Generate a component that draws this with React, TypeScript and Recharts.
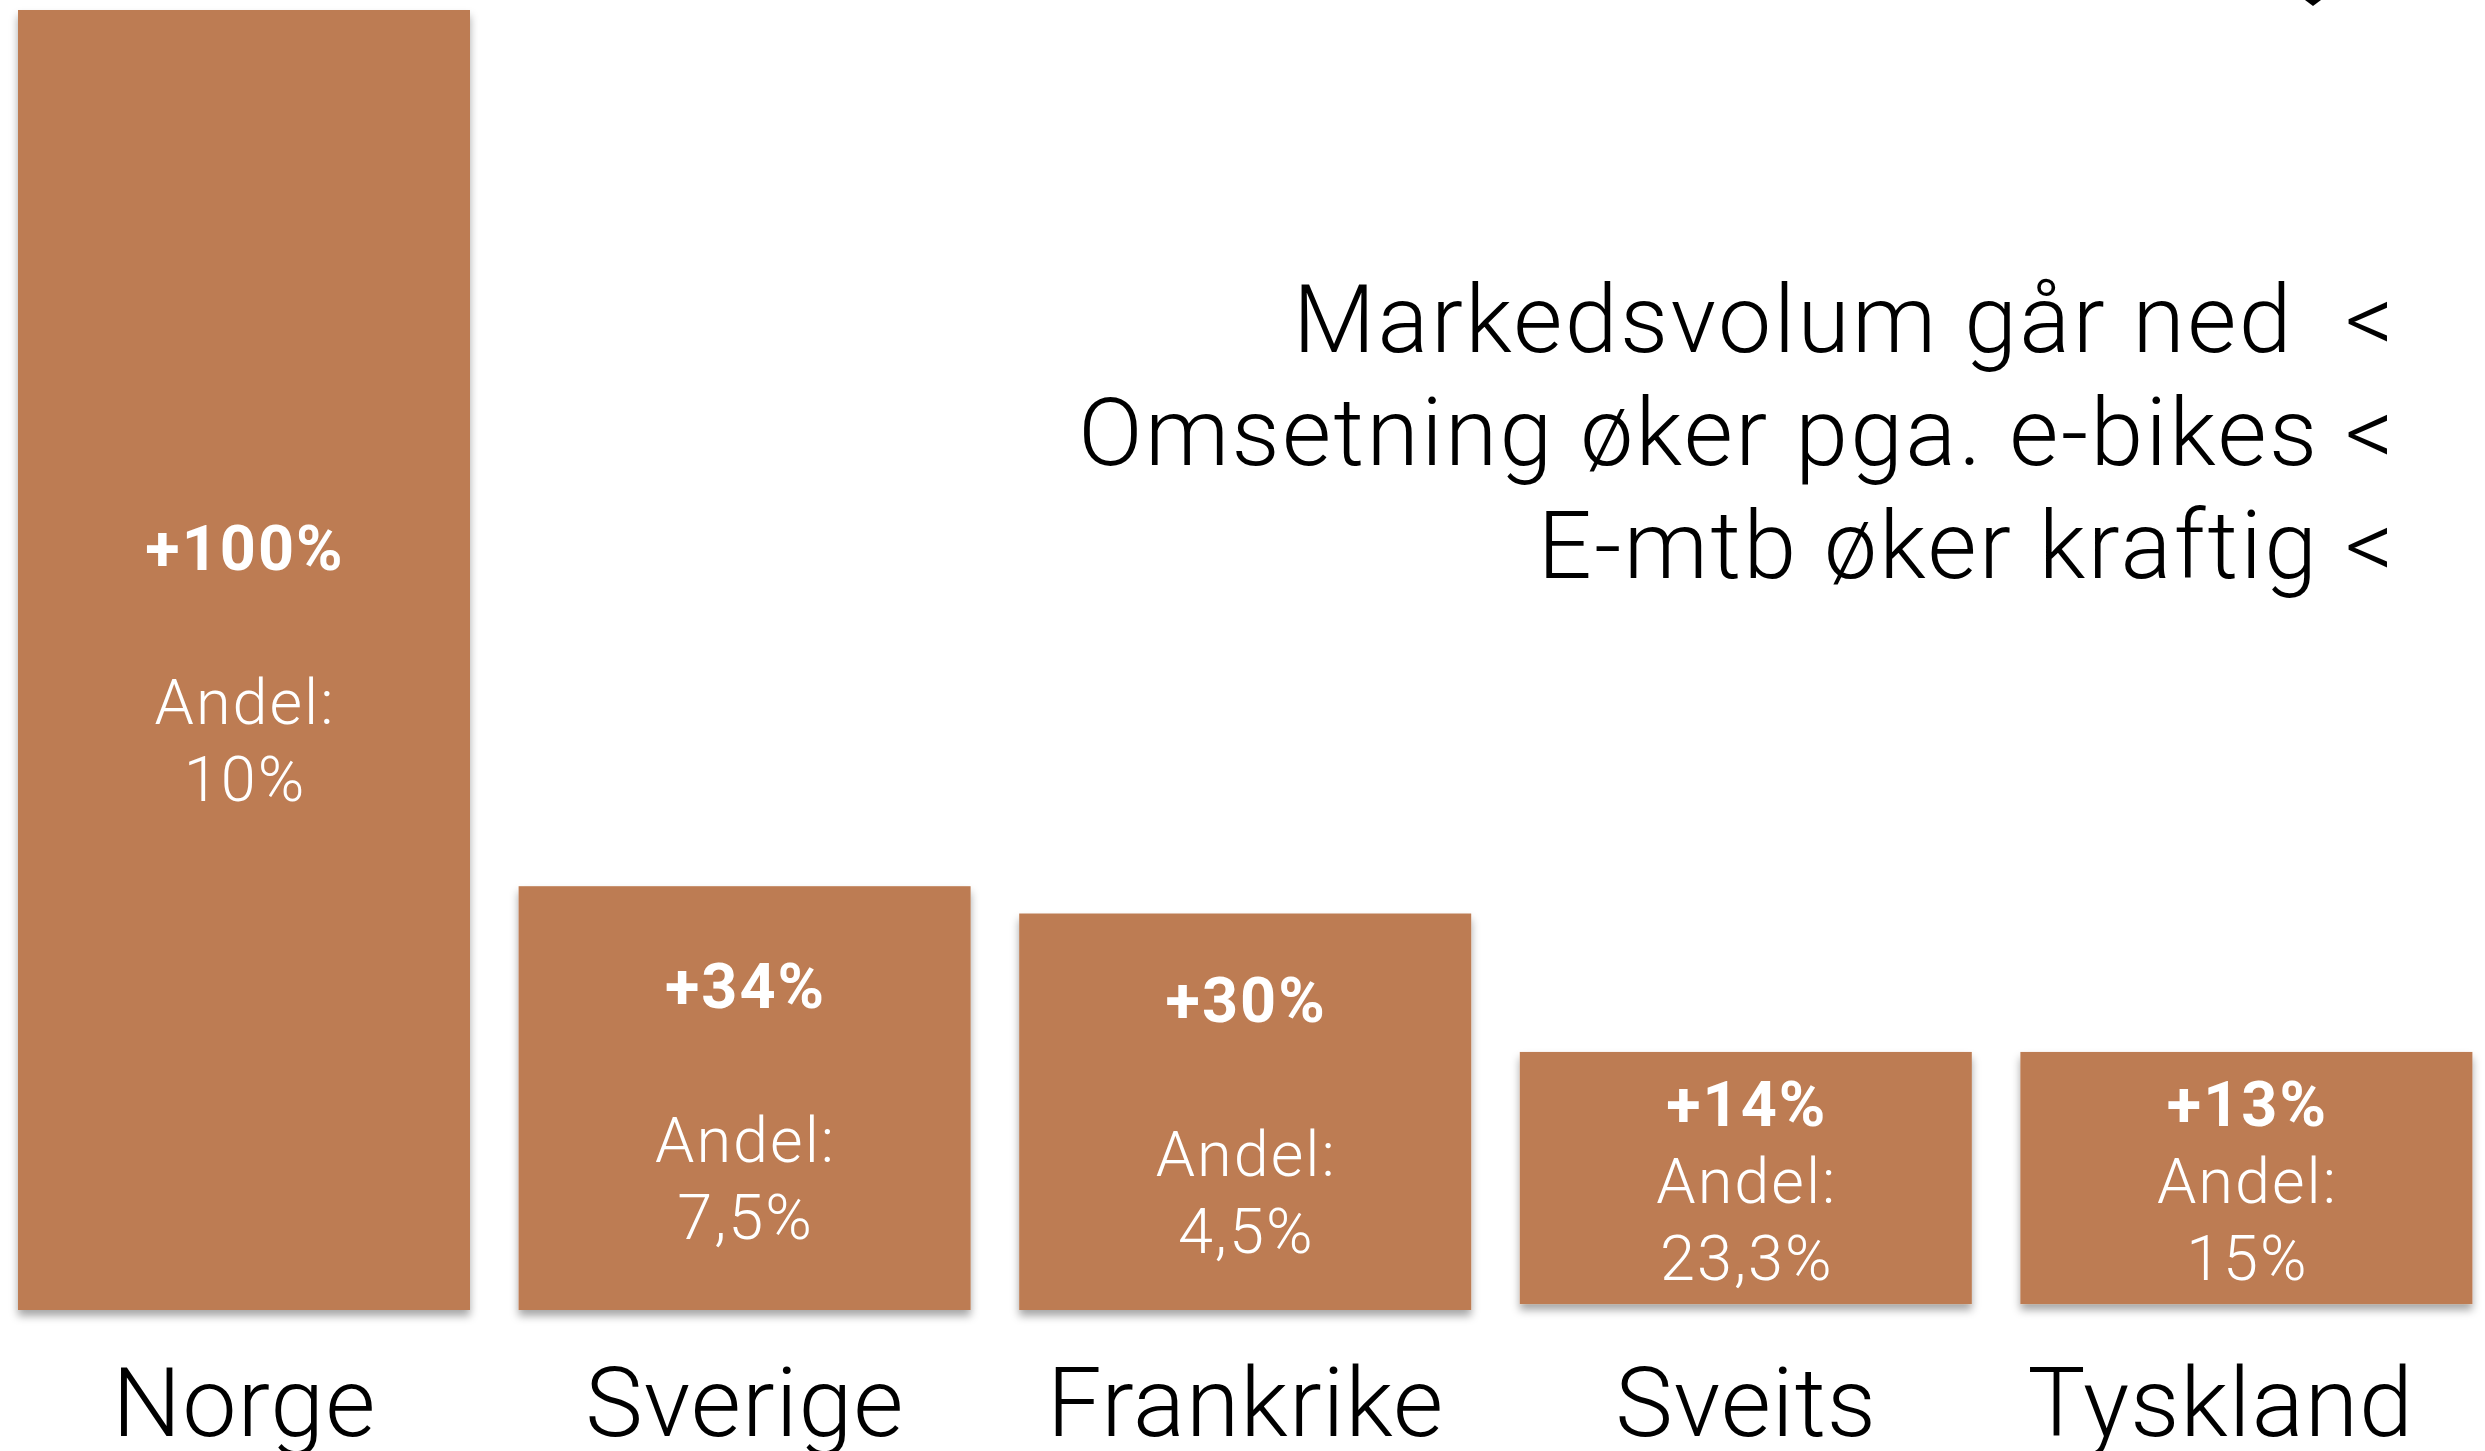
import { BarChart, Bar, XAxis, YAxis, Customized } from 'recharts';

const countries = ['Norge', 'Sverige', 'Frankrike', 'Sveits', 'Tyskland'];
const barBase = [0, 0, 0, 0.46, 0.46];
const barTop = [100, 32.6, 30.5, 19.85, 19.85];
const growth = ['+100%', '+34%', '+30%', '+14%', '+13%'];
const share = ['10%', '7,5%', '4,5%', '23,3%', '15%'];
const notes = ['Markedsvolum går ned  <', 'Omsetning øker pga. e-bikes <', 'E-mtb øker kraftig <'];

const data = countries.map((country, i) => ({
  country,
  range: [barBase[i], barTop[i]],
  growth: growth[i],
  share: share[i],
}));

const SHIFT = -6;
const WIDTH = 2503;
const HEIGHT = 1451;
const BAR_COLOR = '#BD7C53';
const FONT = 'Roboto, "Helvetica Neue", Arial, sans-serif';

function BarShape(props: any) {
  const { x, y, width, height, payload } = props;
  const tall = height > 300;
  const lines = tall ? [payload.growth, '', 'Andel:', payload.share] : [payload.growth, 'Andel:', payload.share];
  const lh = 77;
  const cy = y + height / 2;
  const first = cy - ((lines.length - 1) * lh) / 2 + 25.5;
  return (
    <g>
      <rect x={x} y={y} width={width} height={height} fill={BAR_COLOR} filter="url(#barShadow)" />
      {lines.map((t: string, i: number) =>
        t ? (
          <text
            key={i}
            x={x + width / 2 + 1}
            y={first + i * lh}
            textAnchor="middle"
            fill="#fff"
            fontFamily={FONT}
            fontSize={63}
            fontWeight={i === 0 ? 700 : 300}
            letterSpacing={2}
          >
            {t}
          </text>
        ) : null
      )}
    </g>
  );
}

function CountryTick(props: any) {
  const { x, y, payload, index } = props;
  return (
    <text
      x={x}
      y={y + 126}
      dx={index === countries.length - 1 ? -26 : 0}
      textAnchor="middle"
      fill="#000"
      fontFamily={FONT}
      fontSize={97}
      fontWeight={300}
      letterSpacing={1}
    >
      {payload.value}
    </text>
  );
}

function Notes() {
  return (
    <g>
      {notes.map((t, i) => (
        <text
          key={t}
          x={2396 - SHIFT}
          y={352 + i * 113}
          textAnchor="end"
          fill="#000"
          fontFamily={FONT}
          fontSize={95}
          fontWeight={300}
          letterSpacing={2.4}
          style={{ whiteSpace: 'pre' }}
        >
          {t}
        </text>
      ))}
      <path d={`M ${2305 - SHIFT} 0 L ${2313 - SHIFT} 6 L ${2321 - SHIFT} 0 Z`} fill="#000" />
    </g>
  );
}

export default function App() {
  return (
    <div style={{ position: 'absolute', left: SHIFT, top: 0, width: WIDTH, height: HEIGHT, background: '#fff' }}>
      <BarChart width={WIDTH} height={HEIGHT} data={data} margin={{ top: 10, right: 0, bottom: 0, left: 0 }}>
        <defs>
          <filter id="barShadow" x="-5%" y="-5%" width="110%" height="115%">
            <feDropShadow dx="0" dy="6" stdDeviation="4" floodColor="#000" floodOpacity="0.35" />
          </filter>
        </defs>
        <XAxis
          dataKey="country"
          height={141}
          tickLine={false}
          axisLine={false}
          tickSize={0}
          tickMargin={0}
          interval={0}
          tick={<CountryTick />}
        />
        <YAxis hide domain={[0, 100]} />
        <Bar dataKey="range" barSize={452} isAnimationActive={false} shape={<BarShape />} />
        <Customized component={Notes} />
      </BarChart>
    </div>
  );
}
